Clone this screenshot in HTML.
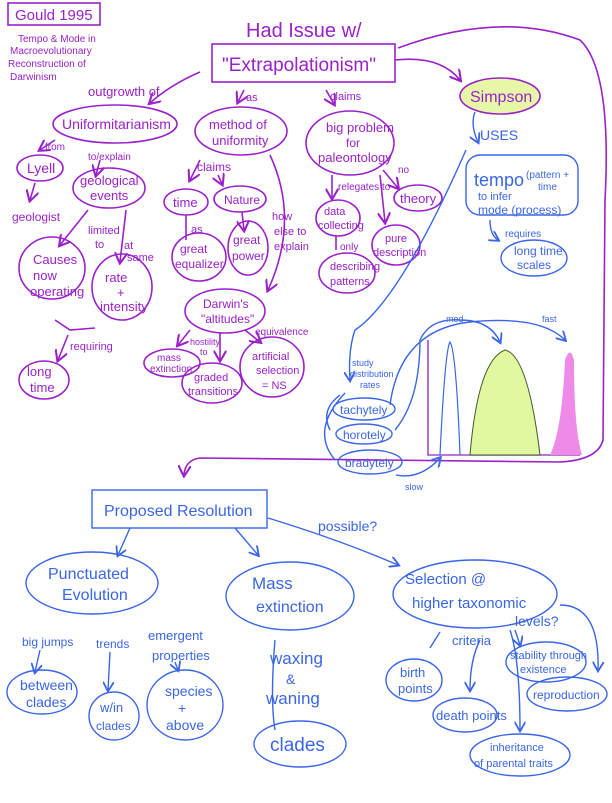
<!DOCTYPE html>
<html><head><meta charset="utf-8"><style>
html,body{margin:0;padding:0;background:#fff;}
svg{display:block}
text{font-family:"Liberation Sans",sans-serif;}
.p{fill:#9a22c8;}
.b{fill:#3a66e6;}
.ps{stroke:#9a22c8;fill:none;stroke-width:1.6;}
.bs{stroke:#3a66e6;fill:none;stroke-width:1.4;}
</style></head><body>
<svg width="612" height="803" viewBox="0 0 612 803" xmlns="http://www.w3.org/2000/svg">
<defs>
<marker id="ap" markerWidth="8" markerHeight="8" refX="6" refY="4" orient="auto"><path d="M0,0 L7,4 L0,8" fill="none" stroke="#9a22c8" stroke-width="1.3"/></marker>
<marker id="ab" markerWidth="8" markerHeight="8" refX="6" refY="4" orient="auto"><path d="M0,0 L7,4 L0,8" fill="none" stroke="#3a66e6" stroke-width="1.3"/></marker>
</defs>
<rect x="8" y="3" width="92" height="22" class="ps"/>
<text x="15" y="20" class="p" font-size="15">Gould 1995</text>
<text x="18" y="42" class="p" font-size="10">Tempo &amp; Mode in</text>
<text x="10" y="54" class="p" font-size="10">Macroevolutionary</text>
<text x="8" y="67" class="p" font-size="10">Reconstruction of</text>
<text x="10" y="80" class="p" font-size="10">Darwinism</text>
<text x="246" y="37" class="p" font-size="20">Had Issue w/</text>
<rect x="212" y="44" width="183" height="38" class="ps" stroke-width="2"/>
<text x="222" y="71" class="p" font-size="19">"Extrapolationism"</text>
<text x="88" y="96" class="p" font-size="13">outgrowth of</text>
<path d="M200,72 Q170,85 150,103" class="ps" marker-end="url(#ap)"/>
<ellipse cx="115" cy="124" rx="62" ry="19" class="ps"/>
<text x="62" y="129" class="p" font-size="14">Uniformitarianism</text>
<path d="M55,140 L40,150" class="ps" marker-end="url(#ap)"/><text x="45" y="150" class="p" font-size="10">from</text>
<ellipse cx="40" cy="168" rx="23" ry="13" class="ps"/><text x="27" y="173" class="p" font-size="14">Lyell</text>
<path d="M35,183 L30,200" class="ps" marker-end="url(#ap)"/>
<text x="12" y="221" class="p" font-size="12">geologist</text>
<text x="88" y="160" class="p" font-size="10">to/explain</text>
<path d="M100,160 L96,175" class="ps" marker-end="url(#ap)"/>
<ellipse cx="109" cy="188" rx="36" ry="20" class="ps"/>
<text x="80" y="185" class="p" font-size="13">geological</text><text x="90" y="200" class="p" font-size="13">events</text>
<path d="M88,210 L60,245" class="ps" marker-end="url(#ap)"/>
<text x="88" y="234" class="p" font-size="11">limited</text><text x="95" y="248" class="p" font-size="11">to</text>
<path d="M126,210 L120,262" class="ps" marker-end="url(#ap)"/>
<text x="124" y="249" class="p" font-size="11">at</text><text x="127" y="261" class="p" font-size="11">same</text>
<ellipse cx="52" cy="268" rx="33" ry="31" class="ps"/>
<text x="33" y="264" class="p" font-size="13">Causes</text><text x="33" y="280" class="p" font-size="13">now</text><text x="30" y="296" class="p" font-size="13">operating</text>
<ellipse cx="122" cy="287" rx="30" ry="33" class="ps"/>
<text x="105" y="282" class="p" font-size="13">rate</text><text x="117" y="297" class="p" font-size="13">+</text><text x="100" y="311" class="p" font-size="13">intensity</text>
<path d="M55,320 L70,330 L95,328" class="ps"/>
<path d="M68,335 L58,360" class="ps" marker-end="url(#ap)"/>
<text x="70" y="350" class="p" font-size="11">requiring</text>
<ellipse cx="44" cy="380" rx="25" ry="19" class="ps"/>
<text x="27" y="376" class="p" font-size="13">long</text><text x="30" y="392" class="p" font-size="13">time</text>
<path d="M244,90 L238,102" class="ps" marker-end="url(#ap)"/><text x="246" y="101" class="p" font-size="11">as</text>
<ellipse cx="241" cy="131" rx="46" ry="24" class="ps"/>
<text x="209" y="129" class="p" font-size="13">method of</text><text x="212" y="145" class="p" font-size="13">uniformity</text>
<text x="197" y="171" class="p" font-size="12">claims</text>
<path d="M200,160 L190,180" class="ps" marker-end="url(#ap)"/>
<path d="M218,175 L222,184" class="ps" marker-end="url(#ap)"/>
<ellipse cx="186" cy="202" rx="22" ry="13" class="ps"/><text x="173" y="207" class="p" font-size="13">time</text>
<ellipse cx="240" cy="199" rx="26" ry="13" class="ps"/><text x="224" y="204" class="p" font-size="12">Nature</text>
<text x="191" y="233" class="p" font-size="11">as</text>
<path d="M186,215 L186,240" class="ps"/>
<ellipse cx="199" cy="257" rx="27" ry="24" class="ps"/>
<text x="180" y="253" class="p" font-size="12">great</text><text x="175" y="268" class="p" font-size="12">equalizer</text>
<path d="M242,212 L244,230" class="ps" marker-end="url(#ap)"/>
<ellipse cx="248" cy="248" rx="20" ry="27" class="ps"/>
<text x="233" y="244" class="p" font-size="12">great</text><text x="232" y="260" class="p" font-size="12">power</text>
<text x="272" y="220" class="p" font-size="11">how</text><text x="274" y="235" class="p" font-size="11">else to</text><text x="274" y="250" class="p" font-size="11">explain</text>
<path d="M270,155 Q300,220 268,290" class="ps" marker-end="url(#ap)"/>
<ellipse cx="225" cy="311" rx="40" ry="22" class="ps"/>
<text x="203" y="308" class="p" font-size="12">Darwin's</text><text x="201" y="323" class="p" font-size="12">"altitudes"</text>
<path d="M190,330 L178,345" class="ps" marker-end="url(#ap)"/>
<text x="190" y="345" class="p" font-size="9">hostility</text><text x="200" y="355" class="p" font-size="9">to</text>
<path d="M220,333 L220,360" class="ps" marker-end="url(#ap)"/>
<path d="M245,330 L260,342" class="ps" marker-end="url(#ap)"/><text x="255" y="335" class="p" font-size="10">equivalence</text>
<ellipse cx="172" cy="363" rx="28" ry="14" class="ps"/><text x="157" y="361" class="p" font-size="10">mass</text><text x="150" y="372" class="p" font-size="10">extinction</text>
<ellipse cx="212" cy="383" rx="30" ry="20" class="ps"/><text x="194" y="381" class="p" font-size="11">graded</text><text x="188" y="395" class="p" font-size="11">transitions</text>
<ellipse cx="272" cy="367" rx="32" ry="30" class="ps"/>
<text x="252" y="360" class="p" font-size="11">artificial</text><text x="256" y="374" class="p" font-size="11">selection</text><text x="262" y="389" class="p" font-size="11">= NS</text>
<path d="M326,90 L334,104" class="ps" marker-end="url(#ap)"/><text x="330" y="100" class="p" font-size="11">claims</text>
<ellipse cx="350" cy="143" rx="44" ry="32" class="ps"/>
<text x="326" y="132" class="p" font-size="13">big problem</text><text x="346" y="147" class="p" font-size="12">for</text><text x="318" y="162" class="p" font-size="13">paleontology</text>
<path d="M332,175 L332,198" class="ps" marker-end="url(#ap)"/><text x="338" y="190" class="p" font-size="10">relegates to</text>
<path d="M383,170 L398,188" class="ps" marker-end="url(#ap)"/><text x="398" y="173" class="p" font-size="10">no</text>
<ellipse cx="418" cy="198" rx="24" ry="13" class="ps" stroke-width="3"/><text x="400" y="203" class="p" font-size="13">theory</text>
<ellipse cx="338" cy="218" rx="22" ry="18" class="ps"/><text x="324" y="215" class="p" font-size="11">data</text><text x="318" y="229" class="p" font-size="11">collecting</text>
<path d="M336,236 L336,250" class="ps"/><text x="340" y="250" class="p" font-size="10">only</text>
<path d="M380,175 L385,222" class="ps" marker-end="url(#ap)"/>
<ellipse cx="396" cy="245" rx="24" ry="20" class="ps"/><text x="385" y="242" class="p" font-size="11">pure</text><text x="373" y="256" class="p" font-size="11">description</text>
<ellipse cx="347" cy="273" rx="28" ry="20" class="ps"/><text x="330" y="270" class="p" font-size="11">describing</text><text x="330" y="285" class="p" font-size="11">patterns</text>
<path d="M395,60 Q440,55 460,80" class="ps" marker-end="url(#ap)"/>
<ellipse cx="500" cy="96" rx="40" ry="18" fill="#e6f7a8" stroke="#9a22c8" stroke-width="1.6"/>
<text x="470" y="102" class="p" font-size="16">Simpson</text>
<path d="M398,48 Q500,10 580,40 Q612,70 605,200 L603,440 Q598,460 560,462 L200,458 Q185,460 184,475" class="ps" marker-end="url(#ap)"/>
<path d="M475,112 Q470,125 478,142" class="bs" marker-end="url(#ab)"/>
<text x="480" y="140" class="b" font-size="14">USES</text>
<rect x="466" y="155" width="112" height="60" rx="14" class="bs"/>
<text x="474" y="186" class="b" font-size="18">tempo</text><text x="526" y="178" class="b" font-size="10">(pattern +</text><text x="538" y="190" class="b" font-size="10">time</text>
<text x="478" y="200" class="b" font-size="11">to infer</text><text x="478" y="214" class="b" font-size="12">mode (process)</text>
<path d="M490,220 Q490,235 498,240" class="bs" marker-end="url(#ab)"/><text x="505" y="237" class="b" font-size="10">requires</text>
<ellipse cx="534" cy="258" rx="33" ry="18" class="bs"/><text x="514" y="255" class="b" font-size="12">long time</text><text x="517" y="269" class="b" font-size="12">scales</text>
<path d="M466,150 Q400,300 355,330 Q348,350 350,380" class="bs" marker-end="url(#ab)"/>
<text x="352" y="366" class="b" font-size="9">study</text><text x="350" y="377" class="b" font-size="9">distribution</text><text x="360" y="388" class="b" font-size="9">rates</text>
<ellipse cx="364" cy="409" rx="31" ry="11" class="bs"/><text x="340" y="414" class="b" font-size="12">tachytely</text>
<ellipse cx="364" cy="434" rx="28" ry="10" class="bs"/><text x="343" y="439" class="b" font-size="12">horotely</text>
<ellipse cx="370" cy="462" rx="32" ry="12" class="bs"/><text x="345" y="467" class="b" font-size="12">bradytely</text>
<path d="M340,395 Q320,410 330,430" class="bs"/>
<path d="M345,393 Q310,430 335,460" class="bs"/>
<path d="M395,430 Q420,400 420,340 Q430,318 460,320 Q490,320 500,342" class="bs" marker-end="url(#ab)"/>
<path d="M390,405 Q400,330 470,322 Q540,315 565,340" class="bs" marker-end="url(#ab)"/>
<text x="446" y="322" class="b" font-size="9">med</text><text x="542" y="322" class="b" font-size="9">fast</text>
<path d="M396,475 Q420,480 440,458" class="bs" marker-end="url(#ab)"/><text x="405" y="490" class="b" font-size="9">slow</text>
<path d="M428,340 L428,455 L580,455" stroke="#a04cc8" fill="none" stroke-width="1.6"/>
<path d="M440,455 Q445,350 450,342 Q456,350 460,455" fill="none" stroke="#3a66e6" stroke-width="1.2"/>
<path d="M470,455 Q478,360 505,350 Q528,355 540,455 Z" fill="#e2f8a0" stroke="#3d5a2a" stroke-width="1"/>
<path d="M550,455 Q562,430 565,360 Q570,345 574,360 Q574,430 582,455 Z" fill="#ee8ae8"/>
<rect x="92" y="490" width="175" height="38" class="bs" stroke-width="1.6"/>
<text x="104" y="516" class="b" font-size="16">Proposed Resolution</text>
<path d="M130,528 L118,555" class="bs" marker-end="url(#ab)"/>
<path d="M235,528 L258,555" class="bs" marker-end="url(#ab)"/>
<path d="M268,518 Q340,540 398,565" class="bs" marker-end="url(#ab)"/>
<text x="318" y="531" class="b" font-size="14">possible?</text>
<ellipse cx="92" cy="583" rx="66" ry="31" class="bs"/>
<text x="48" y="579" class="b" font-size="16">Punctuated</text><text x="62" y="600" class="b" font-size="16">Evolution</text>
<ellipse cx="290" cy="596" rx="64" ry="34" class="bs"/>
<text x="252" y="589" class="b" font-size="17">Mass</text><text x="256" y="612" class="b" font-size="16">extinction</text>
<ellipse cx="475" cy="594" rx="82" ry="34" class="bs"/>
<text x="405" y="584" class="b" font-size="15">Selection @</text><text x="412" y="608" class="b" font-size="15">higher taxonomic</text><text x="515" y="626" class="b" font-size="14">levels?</text>
<text x="22" y="646" class="b" font-size="12">big jumps</text><text x="96" y="648" class="b" font-size="12">trends</text>
<text x="148" y="640" class="b" font-size="13">emergent</text><text x="152" y="660" class="b" font-size="13">properties</text>
<path d="M40,650 L35,672" class="bs" marker-end="url(#ab)"/>
<path d="M110,652 L108,690" class="bs" marker-end="url(#ab)"/>
<path d="M175,662 L178,670" class="bs" marker-end="url(#ab)"/>
<ellipse cx="42" cy="692" rx="35" ry="22" class="bs"/><text x="20" y="690" class="b" font-size="14">between</text><text x="26" y="707" class="b" font-size="14">clades</text>
<ellipse cx="114" cy="716" rx="25" ry="24" class="bs"/><text x="100" y="712" class="b" font-size="13">w/in</text><text x="96" y="730" class="b" font-size="12">clades</text>
<ellipse cx="185" cy="705" rx="38" ry="35" class="bs"/><text x="165" y="696" class="b" font-size="14">species</text><text x="178" y="713" class="b" font-size="14">+</text><text x="166" y="730" class="b" font-size="14">above</text>
<text x="270" y="664" class="b" font-size="17">waxing</text><text x="286" y="684" class="b" font-size="14">&amp;</text><text x="266" y="704" class="b" font-size="17">waning</text>
<path d="M275,640 Q270,700 275,730" class="bs"/>
<ellipse cx="300" cy="744" rx="46" ry="23" class="bs"/><text x="270" y="751" class="b" font-size="19">clades</text>
<text x="452" y="645" class="b" font-size="13">criteria</text>
<path d="M440,632 L430,648" class="bs"/>
<path d="M480,640 Q470,660 470,690" class="bs" marker-end="url(#ab)"/>
<path d="M510,630 Q520,660 520,730" class="bs" marker-end="url(#ab)"/>
<path d="M515,630 L520,645" class="bs" marker-end="url(#ab)"/>
<path d="M560,605 Q600,605 598,670" class="bs" marker-end="url(#ab)"/>
<ellipse cx="414" cy="680" rx="28" ry="21" class="bs"/><text x="400" y="677" class="b" font-size="13">birth</text><text x="398" y="693" class="b" font-size="13">points</text>
<ellipse cx="465" cy="715" rx="32" ry="17" class="bs"/><text x="436" y="720" class="b" font-size="13">death points</text>
<ellipse cx="546" cy="662" rx="40" ry="20" class="bs"/><text x="510" y="659" class="b" font-size="11">stability through</text><text x="520" y="673" class="b" font-size="11">existence</text>
<ellipse cx="567" cy="694" rx="40" ry="17" class="bs"/><text x="533" y="699" class="b" font-size="12">reproduction</text>
<ellipse cx="520" cy="755" rx="50" ry="21" class="bs"/><text x="490" y="751" class="b" font-size="11">inheritance</text><text x="474" y="767" class="b" font-size="11">of parental traits</text>
</svg>
</body></html>
